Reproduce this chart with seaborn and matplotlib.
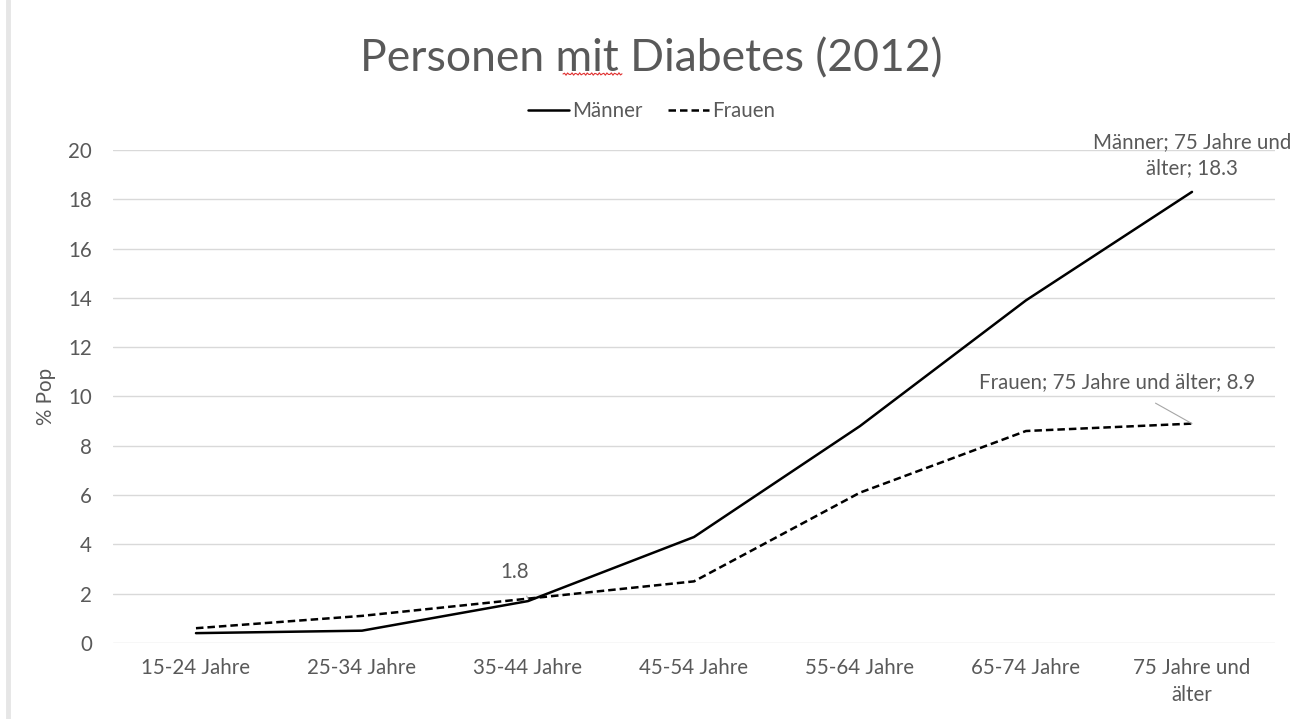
import matplotlib
matplotlib.use("Agg")
import matplotlib.pyplot as plt
import seaborn as sns
import pandas as pd
import numpy as np
from matplotlib.lines import Line2D

categories = ["15-24 Jahre", "25-34 Jahre", "35-44 Jahre", "45-54 Jahre",
              "55-64 Jahre", "65-74 Jahre", "75 Jahre und\nälter"]
maenner = [0.4, 0.5, 1.7, 4.3, 8.8, 13.9, 18.3]
frauen = [0.6, 1.1, 1.8, 2.5, 6.1, 8.6, 8.9]
series_names = ["Männer", "Frauen"]
yticks = [0, 2, 4, 6, 8, 10, 12, 14, 16, 18, 20]

sns.set_style("white")
plt.rcParams["font.family"] = ["Lato", "DejaVu Sans"]
TXT = "#595959"
FS = 14.8

df = pd.DataFrame({
    "x": list(range(len(categories))) * 2,
    "val": maenner + frauen,
    "Serie": [series_names[0]] * len(maenner) + [series_names[1]] * len(frauen),
})

fig = plt.figure(figsize=(13.03, 7.19), dpi=100)
ax = fig.add_axes([0.0867, 0.1057, 0.8918, 0.6857])

sns.lineplot(data=df, x="x", y="val", style="Serie", color="black",
             dashes={"Männer": "", "Frauen": (3, 1.6)}, linewidth=1.8,
             ax=ax, legend=False, sort=False)

ax.set_xlim(-0.5, len(categories) - 0.5)
ax.set_ylim(0, 20)
ax.set_yticks(yticks)
ax.set_xticks(range(len(categories)))
ax.set_xticklabels(categories, fontsize=FS, color=TXT, linespacing=1.45)
ax.set_yticklabels([str(t) for t in yticks], fontsize=FS, color=TXT)
ax.tick_params(axis="both", length=0)
ax.tick_params(axis="x", pad=11)
ax.tick_params(axis="y", pad=15)
ax.yaxis.grid(True, color="#d9d9d9", linewidth=1)
ax.set_axisbelow(True)
for s in ax.spines.values():
    s.set_visible(False)
ax.set_xlabel("")
ax.set_ylabel("% Pop", fontsize=FS, color=TXT, labelpad=9)

# Legend
handles = [Line2D([], [], color="black", lw=1.8),
           Line2D([], [], color="black", lw=1.8, dashes=(3, 1.6))]
fig.legend(handles, series_names, loc="center", bbox_to_anchor=(0.5, 0.845),
           ncol=2, frameon=False, fontsize=FS, labelcolor=TXT,
           handlelength=2.0, handletextpad=0.15, columnspacing=1.2)

# Title
fig.text(0.5, 0.918, "Personen mit Diabetes (2012)", ha="center", va="center",
         fontsize=32, color=TXT)
# spell-check squiggle under "mit"
xs = np.linspace(563, 622, 40)
ys = 719 - 74 + 1.2 * np.sin((xs - 563) * 1.6)
fig.add_artist(Line2D(xs / 1303, ys / 719, transform=fig.transFigure,
                      color="#e03030", lw=0.8))

# Data labels
ax.annotate("1.8", xy=(2, frauen[2]), xytext=(1.92, 2.9), ha="center",
            va="center", fontsize=FS, color=TXT,
            arrowprops=dict(arrowstyle="-", color="#a6a6a6", lw=0.8,
                            shrinkA=9, shrinkB=0))
ax.annotate("Frauen; 75 Jahre und älter; 8.9", xy=(6, frauen[6]),
            xytext=(5.55, 10.6), ha="center", va="center", fontsize=FS,
            color=TXT,
            arrowprops=dict(arrowstyle="-", color="#a6a6a6", lw=0.8,
                            shrinkA=12, shrinkB=0))
ax.annotate("Männer; 75 Jahre und\nälter; 18.3", xy=(6, maenner[6]),
            xytext=(6.0, 19.8), ha="center", va="center", fontsize=FS,
            color=TXT, linespacing=1.4)

# left border of the slide
fig.add_artist(Line2D([0.0065, 0.0065], [0, 1], transform=fig.transFigure,
                      color="#e6e6e6", lw=3.5))

fig.savefig("out.png", dpi=100)
